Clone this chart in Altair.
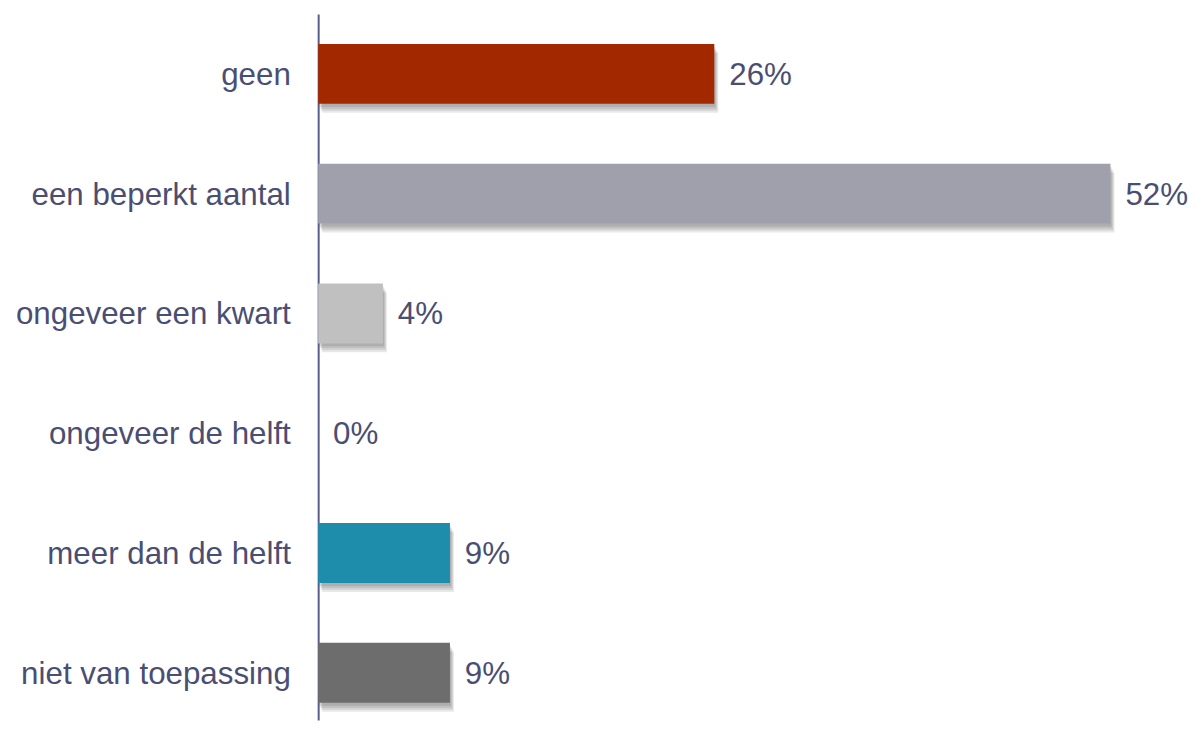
import altair as alt
import pandas as pd

categories = ["geen", "een beperkt aantal", "ongeveer een kwart", "ongeveer de helft",
              "meer dan de helft", "niet van toepassing"]
values = [26.0, 52.0, 4.25, 0.0, 8.65, 8.65]
labels = ["26%", "52%", "4%", "0%", "9%", "9%"]
colors = ["#A22800", "#A0A0AC", "#C0C0C0", "#FFFFFF", "#1E8DAC", "#6D6D6D"]

df = pd.DataFrame({"cat": categories, "val": values, "lab": labels})

FONT = "Liberation Sans"
TXT = "#4A4E72"

yenc = alt.Y("cat:N", sort=categories, title=None,
             scale=alt.Scale(paddingInner=0.5, paddingOuter=0.196, align=0.635, round=False),
             axis=alt.Axis(domainColor="#585C8A", domainWidth=2, ticks=False, grid=False,
                           labelFont=FONT, labelFontSize=31.5, labelColor=TXT,
                           labelPadding=28, labelLimit=500, labelOffset=2))
xenc = alt.X("val:Q", title=None, scale=alt.Scale(domain=[0, 52], nice=False, zero=True),
             axis=None)

base = alt.Chart(df)

shadows = [
    base.mark_bar(color="#000000", opacity=0.09, xOffset=dx, yOffset=dy).encode(x=xenc, y=yenc)
    for dx, dy in [(1, 3), (2, 5), (3, 7), (4, 9)]
]

bars = base.mark_bar(opacity=1).encode(
    x=xenc, y=yenc,
    color=alt.Color("cat:N", sort=categories,
                    scale=alt.Scale(domain=categories, range=colors), legend=None),
)

text = base.mark_text(align="left", baseline="middle", dx=15, dy=2, font=FONT,
                      fontSize=31.5, color=TXT).encode(
    x=xenc, y=yenc, text="lab:N")

chart = alt.layer(*shadows, bars, text).properties(
    width=797, height=710,
    padding={"left": 7, "top": 4, "right": 0, "bottom": 0},
).configure_view(stroke=None)

chart.save("out.html", embed_options={"renderer": "svg", "actions": False})
